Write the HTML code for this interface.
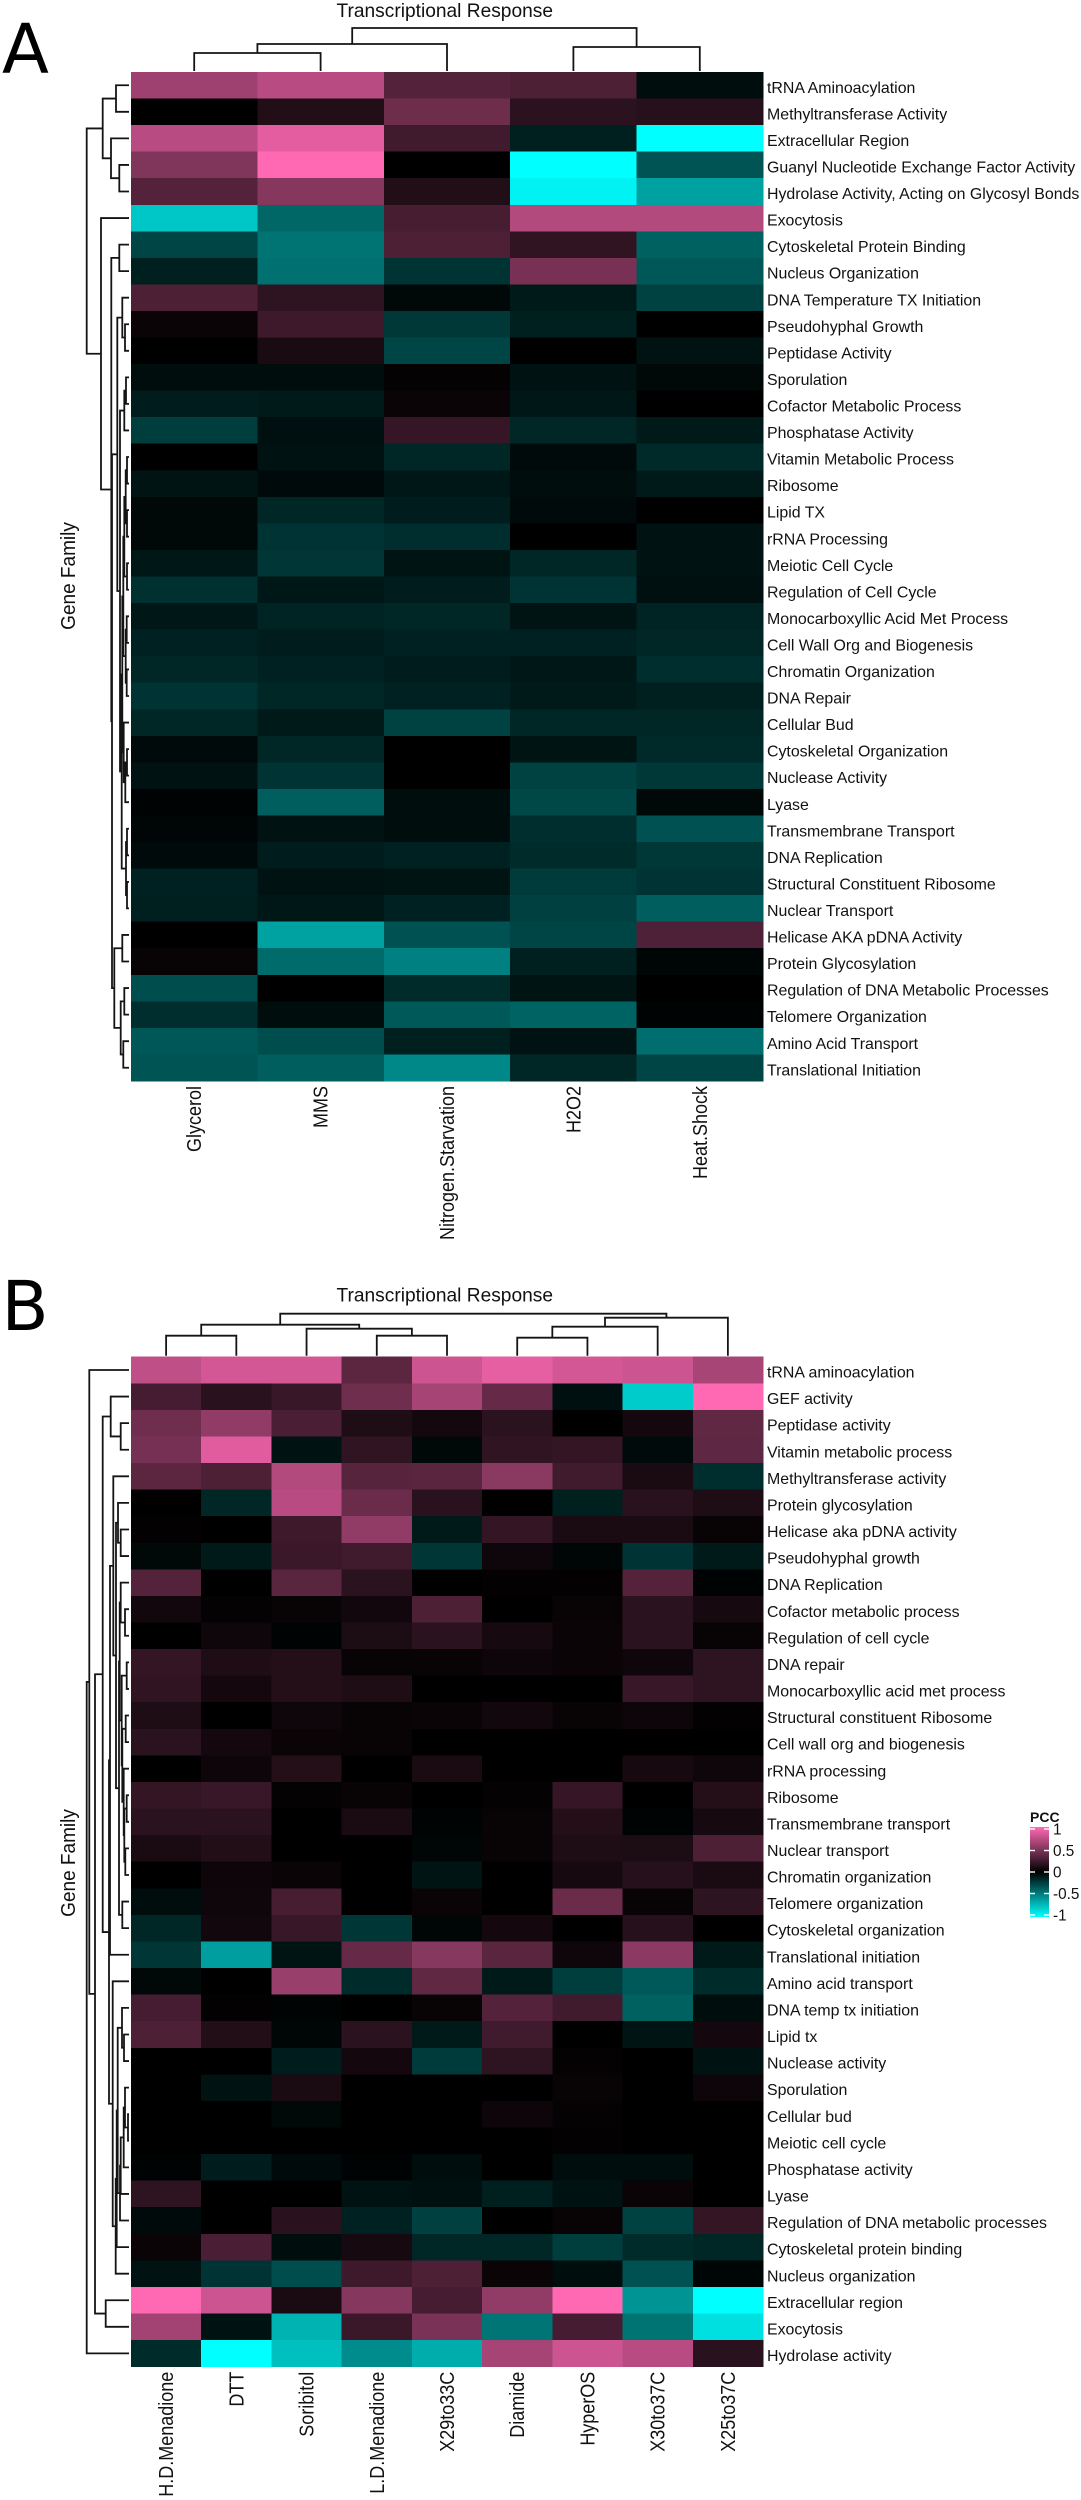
<!DOCTYPE html>
<html>
<head>
<meta charset="utf-8">
<title>Transcriptional Response Heatmaps</title>
<style>
html,body{margin:0;padding:0;background:#fff;}
svg{display:block;}
text{font-family:"Liberation Sans",sans-serif;fill:#111;}
.panel{font-family:"DejaVu Sans",sans-serif;fill:#000;}
</style>
</head>
<body>
<svg id="figure" xmlns="http://www.w3.org/2000/svg" width="1081" height="2500" viewBox="0 0 1081 2500">
<rect x="0" y="0" width="1081" height="2500" fill="#ffffff"/>
<defs>
<linearGradient id="pccGradient" x1="0" y1="0" x2="0" y2="1">
<stop offset="0" stop-color="#ff69b4"/>
<stop offset="0.5" stop-color="#000000"/>
<stop offset="1" stop-color="#00ffff"/>
</linearGradient>
</defs>
<text class="panel" x="2" y="73" font-size="68.6">A</text>
<text class="panel" x="1.5" y="1330" font-size="68.6">B</text>
</svg>
<script>
var colLabelsA = ["Glycerol","MMS","Nitrogen.Starvation","H2O2","Heat.Shock"];
var rowLabelsA = ["tRNA Aminoacylation","Methyltransferase Activity","Extracellular Region","Guanyl Nucleotide Exchange Factor Activity","Hydrolase Activity, Acting on Glycosyl Bonds","Exocytosis","Cytoskeletal Protein Binding","Nucleus Organization","DNA Temperature TX Initiation","Pseudohyphal Growth","Peptidase Activity","Sporulation","Cofactor Metabolic Process","Phosphatase Activity","Vitamin Metabolic Process","Ribosome","Lipid TX","rRNA Processing","Meiotic Cell Cycle","Regulation of Cell Cycle","Monocarboxyllic Acid Met Process","Cell Wall Org and Biogenesis","Chromatin Organization","DNA Repair","Cellular Bud","Cytoskeletal Organization","Nuclease Activity","Lyase","Transmembrane Transport","DNA Replication","Structural Constituent Ribosome","Nuclear Transport","Helicase AKA pDNA Activity","Protein Glycosylation","Regulation of DNA Metabolic Processes","Telomere Organization","Amino Acid Transport","Translational Initiation"];
var valuesA = [
[.62,.72,.33,.3,-.05],
[0,.13,.43,.17,.15],
[.72,.89,.25,-.12,-1],
[.5,1,0,-1,-.33],
[.33,.52,.13,-.95,-.63],
[-.78,-.4,.28,.7,.7],
[-.27,-.45,.3,.19,-.38],
[-.12,-.44,-.2,.47,-.34],
[.3,.18,-.03,-.1,-.26],
[.04,.24,-.22,-.12,0],
[0,.1,-.27,0,-.07],
[-.05,-.05,.02,-.07,-.03],
[-.11,-.1,.04,-.09,0],
[-.24,-.06,.21,-.15,-.1],
[0,-.07,-.15,-.04,-.16],
[-.08,-.04,-.09,-.05,-.1],
[-.03,-.15,-.11,-.04,0],
[-.03,-.2,-.18,0,-.07],
[-.09,-.21,-.08,-.15,-.07],
[-.19,-.09,-.11,-.2,-.06],
[-.09,-.14,-.15,-.08,-.14],
[-.13,-.11,-.13,-.13,-.15],
[-.15,-.13,-.11,-.09,-.18],
[-.2,-.15,-.13,-.1,-.12],
[-.15,-.1,-.26,-.15,-.15],
[-.04,-.15,0,-.08,-.16],
[-.07,-.2,0,-.26,-.22],
[-.01,-.37,-.05,-.28,-.03],
[-.02,-.07,-.05,-.18,-.32],
[-.04,-.11,-.13,-.17,-.22],
[-.13,-.07,-.08,-.23,-.2],
[-.12,-.09,-.13,-.25,-.37],
[0,-.63,-.32,-.27,.31],
[.03,-.42,-.5,-.12,-.02],
[-.3,0,-.17,-.08,0],
[-.18,-.05,-.35,-.39,-.01],
[-.34,-.3,-.12,-.07,-.43],
[-.33,-.37,-.53,-.15,-.27]
];
var colMergeA = [[-1,-2,18],[1,-3,27],[-4,-5,24],[2,3,43]];
var rowMergeA = [[-1,-2,13],[-4,-5,9.7],[-3,2,18],[1,3,26.3],[-7,-8,9.7],[-10,-11,4],[-9,6,6.7],[-12,-13,3],[8,-14,4.7],[-15,-16,2],[-17,-18,2],[10,11,3.3],[-19,-20,2],[12,13,4.7],[-21,-22,2.3],[-23,-24,2.3],[15,16,3.3],[14,17,5.7],[-26,-27,2],[19,-28,3.7],[-25,20,5.3],[18,21,6.7],[-29,-30,2],[-31,-32,2],[23,24,3],[22,25,7.3],[9,26,9],[7,27,11.7],[-33,-34,6.7],[-35,-36,4.7],[-37,-38,5.7],[30,31,8.3],[29,32,14.7],[28,33,17],[5,34,17.7],[-6,35,28],[4,36,42.3]];

var colLabelsB = ["H.D.Menadione","DTT","Soribitol","L.D.Menadione","X29to33C","Diamide","HyperOS","X30to37C","X25to37C"];
var rowLabelsB = ["tRNA aminoacylation","GEF activity","Peptidase activity","Vitamin metabolic process","Methyltransferase activity","Protein glycosylation","Helicase aka pDNA activity","Pseudohyphal growth","DNA Replication","Cofactor metabolic process","Regulation of cell cycle","DNA repair","Monocarboxyllic acid met process","Structural constituent Ribosome","Cell wall org and biogenesis","rRNA processing","Ribosome","Transmembrane transport","Nuclear transport","Chromatin organization","Telomere organization","Cytoskeletal organization","Translational initiation","Amino acid transport","DNA temp tx initiation","Lipid tx","Nuclease activity","Sporulation","Cellular bud","Meiotic cell cycle","Phosphatase activity","Lyase","Regulation of DNA metabolic processes","Cytoskeletal protein binding","Nucleus organization","Extracellular region","Exocytosis","Hydrolase activity"];
var valuesB = [
[.75,.83,.83,.36,.8,.9,.83,.8,.66],
[.27,.16,.22,.44,.65,.4,-.06,-.8,1],
[.44,.57,.29,.12,.08,.17,0,.08,.38],
[.46,.88,-.07,.19,-.03,.19,.2,-.04,.37],
[.36,.3,.7,.34,.35,.54,.25,.1,-.18],
[0,-.15,.72,.42,.16,0,-.12,.16,.12],
[.01,0,.24,.57,-.1,.2,.1,.1,.03],
[-.03,-.1,.23,.25,-.21,.06,-.02,-.2,-.1],
[.33,0,.35,.17,0,.01,.01,.33,-.01],
[.07,.02,.03,.07,.3,0,.03,.17,.09],
[0,.06,-.01,.11,.17,.09,.04,.17,.03],
[.2,.12,.14,.03,.03,.05,.04,.06,.18],
[.19,.08,.14,.12,0,0,0,.22,.18],
[.12,0,.06,.03,.04,.07,.03,.05,.01],
[.17,.08,.04,.03,0,0,0,0,0],
[0,.05,.14,0,.1,0,0,.09,.06],
[.2,.22,.02,.03,0,.02,.21,0,.14],
[.17,.17,0,.1,-.01,.03,.14,-.01,.09],
[.1,.13,0,0,-.02,.03,.12,.11,.3],
[0,.05,.04,0,-.08,0,.09,.15,.1],
[-.05,.06,.28,0,.04,0,.42,.03,.18],
[-.15,.07,.22,-.21,-.02,.08,0,.15,0],
[-.21,-.62,-.08,.4,.53,.35,.06,.55,-.1],
[-.03,0,.6,-.17,.38,-.1,-.24,-.35,-.17],
[.27,.01,-.01,0,.03,.33,.25,-.38,-.05],
[.3,.13,-.02,.17,-.1,.25,0,-.08,.08],
[0,0,-.11,.08,-.23,.18,.02,0,-.07],
[0,-.07,.1,0,0,0,.03,0,.05],
[0,0,-.03,0,0,.05,.02,0,0],
[0,0,0,0,0,0,.01,0,0],
[-.01,-.11,-.04,-.01,-.05,0,-.05,-.05,0],
[.18,0,0,-.07,-.06,-.12,-.07,.04,0],
[-.04,0,.16,-.13,-.25,0,.03,-.26,.2],
[.04,.29,-.05,.09,-.15,-.15,-.24,-.17,-.15],
[-.07,-.2,-.3,.24,.3,.04,-.05,-.32,-.02],
[1,.8,.1,.52,.27,.57,1,-.58,-1],
[.64,-.07,-.7,.23,.48,-.46,.27,-.45,-.88],
[-.17,-1,-.75,-.55,-.68,.65,.8,.72,.16]
];
var colMergeB = [[-1,-2,20],[-4,-5,20],[-3,2,27],[1,3,31],[-6,-7,18],[5,-8,29],[6,-9,38],[4,7,42]];
var rowMergeB = [[-3,-4,8.3],[-2,1,18.3],[-7,-8,8.3],[-6,3,11],[-10,-11,4],[-9,5,8.3],[-12,-13,2.3],[-14,-15,3.3],[-17,-18,2.3],[-19,-20,3.7],[9,10,4.7],[-16,11,5.3],[8,12,6.7],[7,13,7.3],[6,14,9.3],[-21,-22,6.7],[15,16,10],[4,17,13],[-5,18,15.7],[19,-23,19],[-26,-27,5],[-25,21,7],[-29,-30,1],[-28,23,4],[24,-31,5.3],[25,-32,8.3],[26,-33,9],[22,27,11.3],[28,-34,12.3],[29,-35,13.3],[-24,30,16.3],[20,31,20],[2,32,26.3],[-36,-37,23.3],[33,34,34],[-1,35,39.7],[36,-38,42.3]];

var legendTicks = [1,0.5,0,-0.5,-1];
var legendTickLabels = ["1","0.5","0","-0.5","-1"];

var NS = "http://www.w3.org/2000/svg";
var svg = document.getElementById("figure");

function make(tag, attrs, parent) {
  var el = document.createElementNS(NS, tag);
  for (var k in attrs) { el.setAttribute(k, attrs[k]); }
  parent.appendChild(el);
  return el;
}

function colorFor(v) {
  var t = Math.min(1, Math.abs(v));
  if (v >= 0) {
    return "rgb(" + Math.round(255 * t) + "," + Math.round(105 * t) + "," + Math.round(180 * t) + ")";
  }
  return "rgb(0," + Math.round(255 * t) + "," + Math.round(255 * t) + ")";
}

function treePositions(merge, leafPos) {
  var pos = [];
  function at(id) { return id < 0 ? leafPos(-id - 1) : pos[id - 1]; }
  function hgt(id) { return id < 0 ? 0 : merge[id - 1][2]; }
  var segs = [];
  for (var i = 0; i < merge.length; i++) {
    var a = merge[i][0], b = merge[i][1], h = merge[i][2];
    var pa = at(a), pb = at(b);
    pos.push((pa + pb) / 2);
    segs.push({a: pa, b: pb, ha: hgt(a), hb: hgt(b), h: h});
  }
  return segs;
}

function drawPanel(cfg) {
  var cols = cfg.cols, rows = cfg.rows, vals = cfg.values;
  var x0 = cfg.left, x1 = cfg.right, y0 = cfg.top, y1 = cfg.bottom;
  var cw = (x1 - x0) / cols.length, rh = (y1 - y0) / rows.length;
  function xScale(i) { return x0 + cw * i; }
  function yScale(i) { return y0 + rh * i; }

  var g = make("g", {}, svg);
  
  
  for (var r = 0; r < rows.length; r++) {
    for (var c = 0; c < cols.length; c++) {
      var cell = make("rect", {x: xScale(c), y: yScale(r), width: cw + 0.3, height: rh + 0.3, fill: colorFor(vals[r][c]), "shape-rendering": "crispEdges"}, g);
      
      
    }
  }

  var rowGroup = make("g", {}, svg);
  
  
  rows.forEach(function (label, i) {
    var t = make("text", {x: x1 + cfg.rowLabelDx, y: yScale(i + 0.5) + 7.6, "font-size": 15.9}, rowGroup);
    t.textContent = label;
    
    
  });

  var colGroup = make("g", {}, svg);
  
  
  cols.forEach(function (label, i) {
    var bx = xScale(i + 0.5) + 7;
    var by = y1 + 5;
    var t = make("text", {"text-anchor": "end", "font-size": 20, transform: "translate(" + bx + "," + by + ") rotate(-90) scale(0.9,1)"}, colGroup);
    t.textContent = label;
    
    
  });

  var title = make("text", {x: cfg.titleX, y: cfg.titleY, "font-size": 19.5, textLength: 216.5, lengthAdjust: "spacingAndGlyphs"}, svg);
  title.textContent = "Transcriptional Response";
  
  

  var yTitle = make("text", {"text-anchor": "middle", "font-size": 20, transform: "translate(" + cfg.yTitleX + "," + cfg.yTitleY + ") rotate(-90) scale(0.95,1)"}, svg);
  yTitle.textContent = "Gene Family";
  
  

  var d = "";
  var colSegs = treePositions(cfg.colMerge, function (i) { return xScale(i + 0.5); });
  colSegs.forEach(function (s) {
    var base = y0 - 1;
    d += "M" + s.a + " " + (base - s.ha) + "V" + (base - s.h) + "H" + s.b + "V" + (base - s.hb);
  });
  var colTree = make("path", {d: d, fill: "none", stroke: "#141414", "stroke-width": 1.8}, svg);
  
  

  d = "";
  var rowSegs = treePositions(cfg.rowMerge, function (i) { return yScale(i + 0.5); });
  rowSegs.forEach(function (s) {
    var base = x0 - 2;
    d += "M" + (base - s.ha) + " " + s.a + "H" + (base - s.h) + "V" + s.b + "H" + (base - s.hb);
  });
  var rowTree = make("path", {d: d, fill: "none", stroke: "#141414", "stroke-width": 1.8}, svg);
  
  
}

drawPanel({name: "panel-a", cols: colLabelsA, rows: rowLabelsA, values: valuesA, colMerge: colMergeA, rowMerge: rowMergeA, left: 131, right: 763, top: 72, bottom: 1081, rowLabelDx: 4, titleX: 336.5, titleY: 17, yTitleX: 75, yTitleY: 576});
drawPanel({name: "panel-b", cols: colLabelsB, rows: rowLabelsB, values: valuesB, colMerge: colMergeB, rowMerge: rowMergeB, left: 131, right: 763, top: 1356.7, bottom: 2366.7, rowLabelDx: 4, titleX: 336.5, titleY: 1301.5, yTitleX: 75, yTitleY: 1863});

function legendY(v) { return 1872 - 43 * v; }
var legendGroup = make("g", {}, svg);


var legendBar = make("rect", {x: 1030, y: legendY(1) - 2, width: 19, height: legendY(-1) - legendY(1) + 4, fill: "url(#pccGradient)"}, legendGroup);


var legendTitle = make("text", {x: 1030, y: 1822, "font-size": 14, "font-weight": "bold"}, legendGroup);
legendTitle.textContent = "PCC";


legendTicks.forEach(function (v, i) {
  var y = legendY(v);
  var tl = make("rect", {x: 1030, y: y - 0.7, width: 5, height: 1.4, fill: "#fff"}, legendGroup);
  
  
  var tr = make("rect", {x: 1044, y: y - 0.7, width: 5, height: 1.4, fill: "#fff"}, legendGroup);
  
  
  var t = make("text", {x: 1053, y: y + 5.5, "font-size": 15.3}, legendGroup);
  t.textContent = legendTickLabels[i];
  
  
});
</script>
</body>
</html>
